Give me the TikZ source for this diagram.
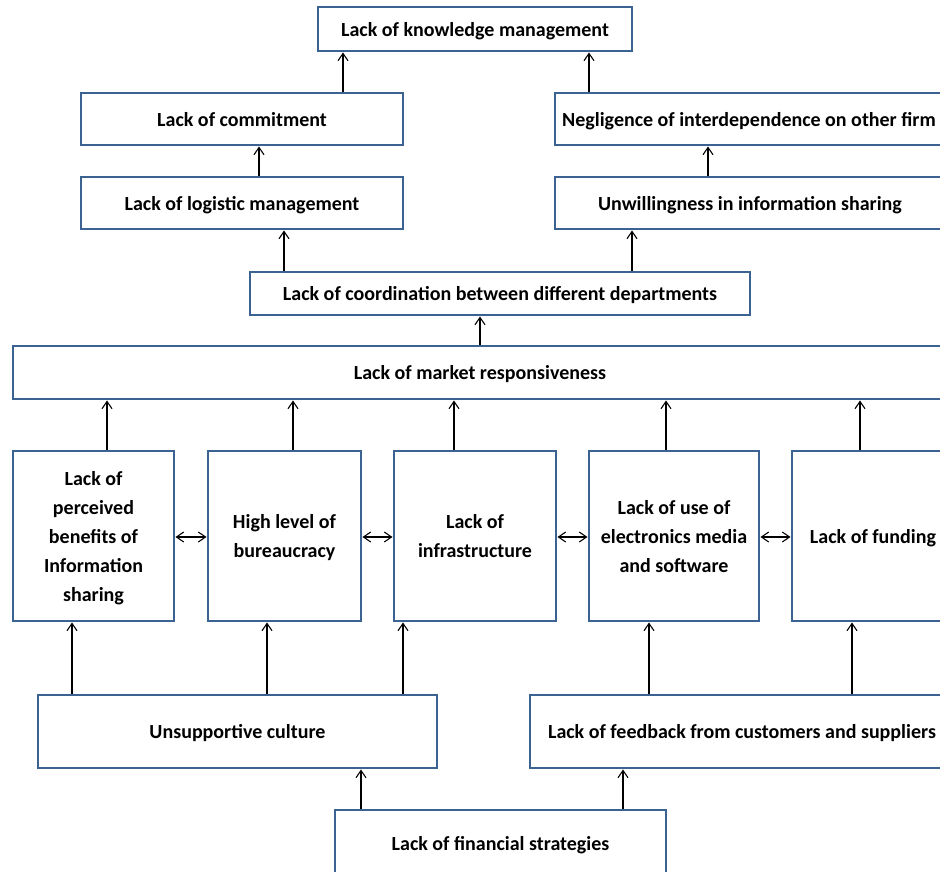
\documentclass[tikz,border=0pt]{standalone}
\usepackage{fontspec}
\setmainfont{Carlito}
\usetikzlibrary{arrows.meta}
\definecolor{boxblue}{RGB}{58,99,145}
\tikzset{
  box/.style={draw=boxblue, line width=2.2pt, fill=white, inner sep=0pt, align=center, text depth=0pt,
    font=\bfseries\fontsize{15}{21.75}\selectfont},
  sz/.style 2 args={minimum width=#1*0.75pt, minimum height=#2*0.75pt},
  arr/.style={line width=0.8pt, -{Straight Barb[length=5.5pt,width=7.5pt,line width=0.8pt]}},
  darr/.style={line width=0.8pt, {Straight Barb[length=5.5pt,width=7.5pt,line width=0.8pt]}-{Straight Barb[length=5.5pt,width=7.5pt,line width=0.8pt]}}
}
\begin{document}
\begin{tikzpicture}[x=0.75pt,y=-0.75pt]
\clip (0,0) rectangle (940,872);
\fill[white] (0,0) rectangle (940,872);
% boxes
\node[box, sz={314}{44}] (know) at (475,29) {Lack of knowledge management};
\node[box, sz={322}{52}] (comm) at (242,119) {Lack of commitment};
\node[box, sz={388}{52}] (negl) at (749,119) {Negligence of interdependence on other firm};
\node[box, sz={322}{52}] (logi) at (242,203) {Lack of logistic management};
\node[box, sz={390}{52}] (unwi) at (750,203) {Unwillingness in information sharing};
\node[box, sz={500}{43}] (coord) at (500,293.5) {Lack of coordination between different departments};
\node[box, sz={934}{53}] (market) at (480,372.5) {Lack of market responsiveness};
\node[box, sz={161}{170}] (b1) at (93.5,536) {Lack of\\perceived\\benefits of\\Information\\sharing};
\node[box, sz={153}{170}] (b2) at (284.5,536) {High level of\\bureaucracy};
\node[box, sz={162}{170}] (b3) at (475,536) {Lack of\\infrastructure};
\node[box, sz={170}{170}] (b4) at (674,536) {Lack of use of\\electronics media\\and software};
\node[box, sz={162}{170}] (b5) at (873,536) {Lack of funding};
\node[box, sz={399}{73}] (cult) at (237.5,731.5) {Unsupportive culture};
\node[box, sz={424}{73}] (feed) at (742,731.5) {Lack of feedback from customers and suppliers};
\node[box, sz={331}{67}] (fin) at (500.5,843.5) {Lack of financial strategies};
% arrows
\draw[arr] (comm.north -| 343,0) -- (know.south -| 343,0);
\draw[arr] (negl.north -| 589,0) -- (know.south -| 589,0);
\draw[arr] (logi.north -| 259,0) -- (comm.south -| 259,0);
\draw[arr] (unwi.north -| 708,0) -- (negl.south -| 708,0);
\draw[arr] (coord.north -| 284,0) -- (logi.south -| 284,0);
\draw[arr] (coord.north -| 632,0) -- (unwi.south -| 632,0);
\draw[arr] (market.north -| 480,0) -- (coord.south -| 480,0);
\draw[arr] (b1.north -| 107,0) -- (market.south -| 107,0);
\draw[arr] (b2.north -| 293,0) -- (market.south -| 293,0);
\draw[arr] (b3.north -| 454,0) -- (market.south -| 454,0);
\draw[arr] (b4.north -| 666,0) -- (market.south -| 666,0);
\draw[arr] (b5.north -| 860,0) -- (market.south -| 860,0);
\draw[arr] (cult.north -| 72,0) -- (b1.south -| 72,0);
\draw[arr] (cult.north -| 267,0) -- (b2.south -| 267,0);
\draw[arr] (cult.north -| 403,0) -- (b3.south -| 403,0);
\draw[arr] (feed.north -| 649,0) -- (b4.south -| 649,0);
\draw[arr] (feed.north -| 852,0) -- (b5.south -| 852,0);
\draw[arr] (fin.north -| 361,0) -- (cult.south -| 361,0);
\draw[arr] (fin.north -| 623,0) -- (feed.south -| 623,0);
\draw[darr] (b1.east |- 0,537) -- (b2.west |- 0,537);
\draw[darr] (b2.east |- 0,537) -- (b3.west |- 0,537);
\draw[darr] (b3.east |- 0,537) -- (b4.west |- 0,537);
\draw[darr] (b4.east |- 0,537) -- (b5.west |- 0,537);
\end{tikzpicture}
\end{document}
